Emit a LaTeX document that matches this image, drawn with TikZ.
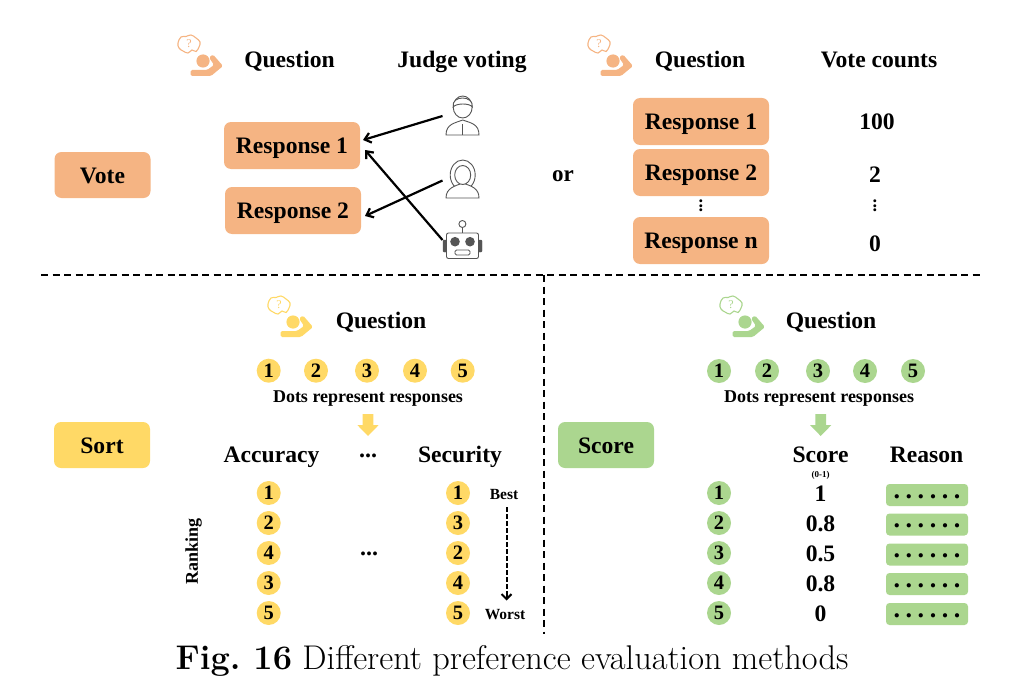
\documentclass[tikz,border=0pt]{standalone}
\usepackage{fontspec}
\newfontfamily\tm{Liberation Serif}
\usetikzlibrary{arrows.meta}
\definecolor{orangefill}{HTML}{F5B483}
\definecolor{yellowfill}{HTML}{FFD966}
\definecolor{greenfill}{HTML}{ABD68F}
\definecolor{icongrey}{HTML}{555555}
\newcommand{\sz}[1]{\fontsize{#1}{#1}\selectfont}
\newcommand{\sixdots}{\sz{26}.\hskip5.6pt.\hskip5.6pt.\hskip5.6pt.\hskip5.6pt.\hskip5.6pt.}
\tikzset{
  every node/.style={font=\tm\bfseries, inner sep=0pt, outer sep=0pt},
  respbox/.style={fill=orangefill, rounded corners=7pt, minimum width=136pt, minimum height=47pt, font=\tm\bfseries\sz{23.6}, text height=16.6pt, text depth=0pt},
  tagbox/.style={rounded corners=7pt, minimum width=96pt, minimum height=46pt, font=\tm\bfseries\sz{23.6}, text height=17.6pt, text depth=0pt},
  head/.style={font=\tm\bfseries\sz{23.6}, text height=17pt, text depth=0pt},
  value/.style={font=\tm\bfseries\sz{23.6}, text height=16.6pt, text depth=0pt},
  dotnum/.style={circle, fill=#1, minimum size=24pt, font=\tm\bfseries\sz{20.5}, text height=13.5pt, text depth=0pt},
  small/.style={font=\tm\bfseries\sz{18}, text height=13.5pt, text depth=0pt},
  reasonbox/.style={fill=greenfill, rounded corners=3.5pt, minimum width=82pt, minimum height=22pt},
  sep/.style={line width=1.9pt, dash pattern=on 7pt off 4.5pt},
  vote/.style={-{Straight Barb[length=6pt,width=10pt,line width=2.2pt]}, line width=2.2pt},
  iconline/.style={draw=icongrey, line width=0.9pt, fill=white},
  qicon/.pic={
    \fill[#1] (0,0) circle (6.6);
    \fill[#1, rounded corners=1.5pt] (-12.5,9)--(4,9)--(11,4)--(6,-3.5)--(10,-6.5)--(20,5)--(8,15)--(-12.5,15)--cycle;
    \draw[#1, line width=1.1pt, fill=white] plot[smooth cycle, tension=0.7] coordinates {(-25,-18)(-22,-24)(-17,-24.5)(-12,-26)(-7,-23)(-3,-19)(-4,-14)(-7,-9.5)(-11,-11)(-15,-8)(-20,-10)(-24,-13)};
    \node[text=#1, font=\tm\sz{12}] at (-14,-17) {?};
  }
}
\begin{document}
\begin{tikzpicture}[x=1pt,y=-1pt]
\useasboundingbox (0,0) rectangle (1032,698);
% separators
\coordinate (sepL) at (41,275);
\coordinate (sepR) at (983,275);
\coordinate (sepT) at (544,275);
\coordinate (sepB) at (544,634);
\draw[sep] (sepL) -- (sepR);
\draw[sep] (sepT) -- (sepB);
% VOTE
\node[tagbox, fill=orangefill] (vote) at (102.5,175) {Vote};
\pic at (203,61) {qicon=orangefill};
\pic at (613,61) {qicon=orangefill};
\node[head] (q1) at (289.5,59.5) {Question};
\node[head] (jv) at (462,59.5) {Judge voting};
\node[head] (q2) at (700,59.5) {Question};
\node[head] (vc) at (879,59.5) {Vote counts};
\node[respbox] (r1) at (292,145.5) {Response 1};
\node[respbox] (r2) at (293,210.5) {Response 2};
\node[respbox] (ra) at (701,121.5) {Response 1};
\node[respbox] (rb) at (701,172.5) {Response 2};
\node[respbox] (rn) at (701,240.5) {Response n};
\node (vd1) at (701,206) {\rotatebox{90}{\sz{18}...}};
\node (vd2) at (875,206) {\rotatebox{90}{\sz{18}...}};
\node[font=\tm\bfseries\sz{23}] (or) at (563,176.5) {or};
\node[value] (v100) at (877,121) {100};
\node[value] (v2) at (875,174) {2};
\node[value] (v0) at (875,243) {0};
% man
\draw[iconline] (446,135) .. controls (446,124) and (455,123) .. (462.7,120) .. controls (471,123) and (479,124) .. (479,135) -- cycle;
\draw[iconline] (462.7,107) ellipse (9.5 and 11);
\draw[iconline] (453.2,107) .. controls (451,95) and (474,95) .. (472.2,107) .. controls (470,103) and (456,103) .. (453.2,107) -- cycle;
\draw[draw=icongrey, line width=0.9pt] (462.7,124) -- (462.7,135);
\coordinate (man) at (442.5,116);
% woman
\draw[iconline] (462.7,175) ellipse (12.5 and 15);
\draw[iconline] (446,198) .. controls (446,188) and (455,186) .. (462.7,183) .. controls (471,186) and (479,188) .. (479,198) -- cycle;
\draw[iconline] (462.7,175) ellipse (8 and 9.5);
\coordinate (woman) at (442.5,180.5);
% robot
\draw[draw=icongrey, fill=icongrey, rounded corners=1pt] (443,240) rectangle (447,252);
\draw[draw=icongrey, fill=icongrey, rounded corners=1pt] (478,240) rectangle (482,252);
\draw[iconline, rounded corners=2pt] (446.5,233) rectangle (478.5,258.5);
\draw[draw=icongrey, line width=0.9pt] (462.4,227.5) -- (462.4,233);
\draw[iconline] (462.4,224) circle (3.5);
\fill[icongrey] (455,241.7) circle (4.8) (470,241.7) circle (4.8);
\draw[iconline, rounded corners=1.5pt] (455,250) rectangle (470,255);
\coordinate (robot) at (442.5,240);
% votes
\draw[vote] (man) -- ([xshift=3pt,yshift=5.5pt]r1.east);
\draw[vote] (woman) -- ([xshift=4pt,yshift=-5.5pt]r2.east);
\draw[vote] (robot) -- ([xshift=5pt,yshift=-4.5pt]r1.east);
% SORT
\node[tagbox, fill=yellowfill] (sort) at (102,445) {Sort};
\pic at (293,322) {qicon=yellowfill};
\node[head] (q3) at (381,320) {Question};
\foreach \n/\x in {1/268.7,2/316,3/367,4/415,5/462.7}
  \node[dotnum=yellowfill] (sa\n) at (\x,370.7) {\n};
\node[small] (dr1) at (368,396) {Dots represent responses};
\fill[yellowfill] (362.7,414) -- (373.3,414) -- (373.3,425) -- (378.7,425) -- (368,436) -- (357.3,425) -- (362.7,425) -- cycle;
\node[head] (acc) at (271.5,454) {Accuracy};
\node[font=\tm\bfseries\sz{24}] (hd) at (368,456) {...};
\node[head] (sec) at (460,454) {Security};
\foreach \i/\a/\b/\y in {1/1/1/493,2/2/3/523,3/4/2/553,4/3/4/583,5/5/5/613} {
  \node[dotnum=yellowfill] (ca\i) at (268.7,\y) {\a};
  \node[dotnum=yellowfill] (cb\i) at (458,\y) {\b};
}
\node[font=\tm\bfseries\sz{24}] (md) at (369,554) {...};
\node[font=\tm\bfseries\sz{18}, rotate=90] (rank) at (193.5,551) {Ranking};
\node[font=\tm\bfseries\sz{15.5}] (best) at (504,494) {Best};
\node[font=\tm\bfseries\sz{15.5}] (worst) at (505,615) {Worst};
\coordinate (arrtop) at (506.5,507);
\coordinate (arrmid) at (506.5,592);
\coordinate (arrend) at (506.5,600.5);
\draw[line width=2pt, dash pattern=on 5pt off 2pt] (arrtop) -- (arrmid);
\draw[-{Straight Barb[length=5pt,width=10pt,line width=2pt]}, line width=2pt] (arrmid) -- (arrend);
% SCORE
\node[tagbox, fill=greenfill] (score) at (606,445) {Score};
\pic at (745,322) {qicon=greenfill};
\node[head] (q4) at (831,320) {Question};
\foreach \n/\x in {1/719,2/767,3/818,4/865,5/913}
  \node[dotnum=greenfill] (sg\n) at (\x,371) {\n};
\node[small] (dr2) at (819,396) {Dots represent responses};
\fill[greenfill] (815.4,414) -- (826,414) -- (826,425) -- (831.4,425) -- (820.7,436) -- (810,425) -- (815.4,425) -- cycle;
\node[head] (sch) at (820.5,454) {Score};
\node[font=\tm\bfseries\sz{9}] (rng) at (820.5,475) {(0-1)};
\node[head] (rsn) at (926.5,454) {Reason};
\foreach \i/\v/\y/\yb in {1/1/493/495,2/0.8/523/524.5,3/0.5/553/554.5,4/0.8/583/584,5/0/613/614} {
  \node[dotnum=greenfill] (cg\i) at (719,\y) {\i};
  \node[value] (val\i) at (820.5,\y+0.5) {\v};
  \node[reasonbox] (rb\i) at (927,\yb) {};
  \node[anchor=base] (rd\i) at (927,\yb+3) {\sixdots};
}
% caption
\node[font=\normalfont\sz{34.3}] (cap) at (512,660.5) {\frenchspacing\textbf{Fig. 16} Different preference evaluation methods};
\end{tikzpicture}
\end{document}
